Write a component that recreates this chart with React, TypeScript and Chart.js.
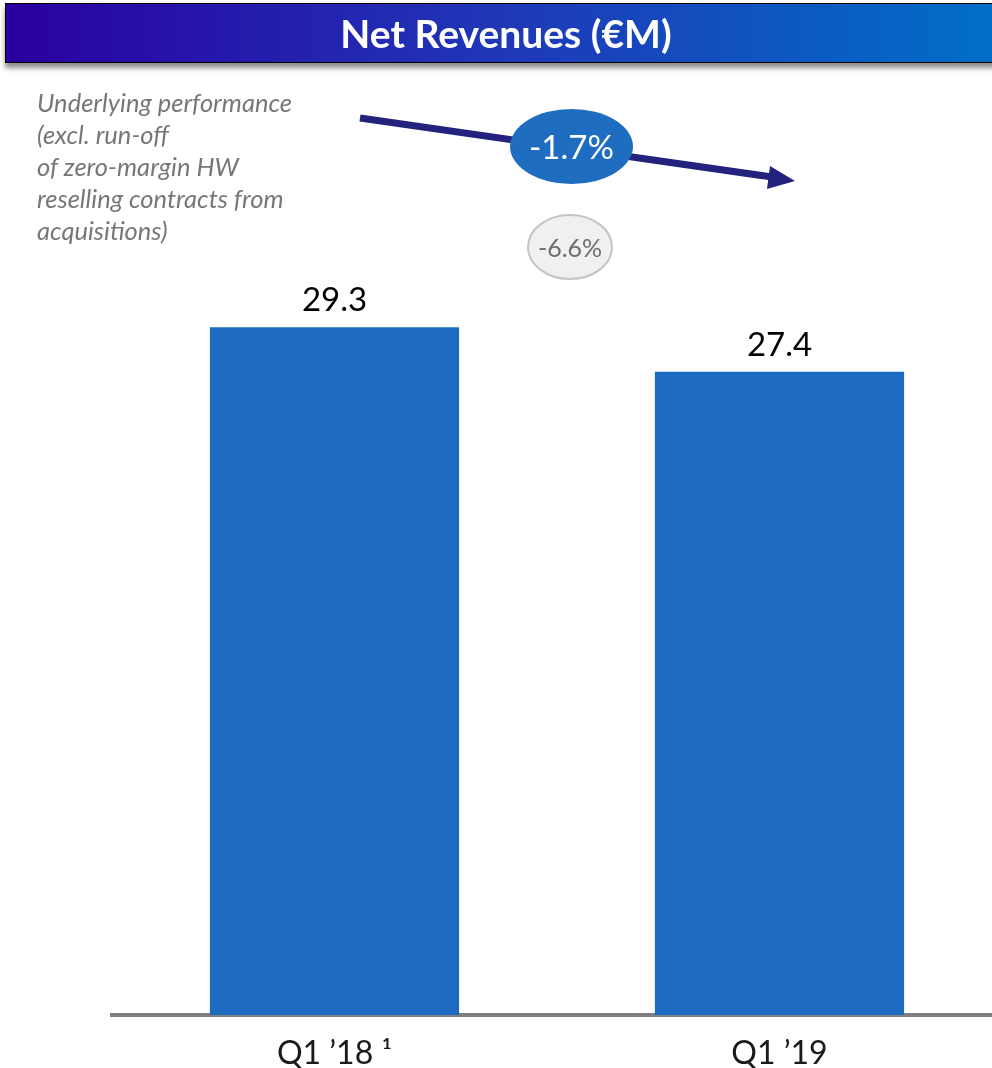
import React, { useEffect, useRef } from "react";
import { Chart, registerables } from "chart.js";

Chart.register(...registerables);

const categories = ["Q1 \u201918 \u00B9", "Q1 \u201919"];
const revenues = [29.3, 27.4];
const title = "Net Revenues (\u20ACM)";
const noteLines = [
  "Underlying performance",
  "(excl. run-off",
  "of zero-margin HW",
  "reselling contracts from",
  "acquisitions)",
];
const underlyingChange = "-1.7%";
const reportedChange = "-6.6%";

const BAR_COLOR = "#1c6bc0";

const valueLabels = {
  id: "valueLabels",
  afterDatasetsDraw(chart: any) {
    const ctx = chart.ctx;
    const meta = chart.getDatasetMeta(0);
    ctx.save();
    ctx.font = "33px Lato, 'Noto Sans', sans-serif";
    ctx.fillStyle = "#000";
    ctx.textAlign = "center";
    ctx.textBaseline = "bottom";
    meta.data.forEach((bar: any, i: number) => {
      ctx.fillText(revenues[i].toFixed(1), bar.x, bar.y - 10);
    });
    ctx.restore();
  },
};

export default function App() {
  const ref = useRef<HTMLCanvasElement>(null);
  useEffect(() => {
    if (!ref.current) return;
    const chart = new Chart(ref.current, {
      type: "bar",
      data: {
        labels: categories,
        datasets: [
          {
            data: revenues,
            backgroundColor: BAR_COLOR,
            borderWidth: 0,
            barPercentage: 0.56,
            categoryPercentage: 1,
          },
        ],
      },
      options: {
        responsive: false,
        animation: false,
        devicePixelRatio: 1,
        layout: { padding: { left: 112, right: 0, top: 76, bottom: 0 } },
        plugins: { legend: { display: false }, tooltip: { enabled: false } },
        scales: {
          y: { display: false, min: 0, max: 40 },
          x: {
            grid: { display: false, drawTicks: false },
            border: { display: true, color: "#808080", width: 4 },
            ticks: {
              color: "#1a1a1a",
              padding: 19,
              font: { family: "Lato, 'Noto Sans', sans-serif", size: 32 },
            },
            afterFit(scale: any) {
              scale.height = 53;
            },
          },
        },
      },
      plugins: [valueLabels],
    });
    return () => chart.destroy();
  }, []);

  return (
    <div
      style={{
        position: "absolute",
        left: 0,
        top: 0,
        width: 992,
        height: 1068,
        overflow: "hidden",
        background: "#fff",
        fontFamily: "Lato, 'Noto Sans', sans-serif",
      }}
    >
      <canvas
        ref={ref}
        width={1002}
        height={1068}
        style={{ position: "absolute", left: 0, top: 0, width: 1002, height: 1068 }}
      />
      <div
        style={{
          position: "absolute",
          left: 5,
          top: 3,
          width: 1000,
          height: 58,
          border: "1.5px solid #000",
          background: "linear-gradient(90deg, #2a00a0 0%, #1f38b8 50%, #0070c8 100%)",
          boxShadow: "0 5px 5px rgba(0,0,0,0.45)",
          color: "#fff",
          fontWeight: 700,
          fontSize: 39,
          lineHeight: "58px",
          textAlign: "center",
        }}
      >
        {title}
      </div>
      <div
        style={{
          position: "absolute",
          left: 37,
          top: 86,
          color: "#777",
          fontStyle: "italic",
          fontSize: 25.5,
          lineHeight: "32px",
        }}
      >
        {noteLines.map((l, i) => (
          <div key={i}>{l}</div>
        ))}
      </div>
      <svg
        width={992}
        height={300}
        style={{ position: "absolute", left: 0, top: 0 }}
      >
        <line x1={360} y1={118} x2={772} y2={177} stroke="#23237e" strokeWidth={7} />
        <polygon points="795,181 770,166 767,189" fill="#23237e" />
        <ellipse cx={571.5} cy={146.5} rx={61.5} ry={37.5} fill="#1f6dc0" />
        <ellipse cx={570} cy={247} rx={42} ry={32} fill="#f0f0f0" stroke="#c4c4c4" strokeWidth={2} />
      </svg>
      <div
        style={{
          position: "absolute",
          left: 510,
          top: 109,
          width: 123,
          height: 75,
          lineHeight: "75px",
          textAlign: "center",
          color: "#fff",
          fontSize: 33,
        }}
      >
        {underlyingChange}
      </div>
      <div
        style={{
          position: "absolute",
          left: 528,
          top: 215,
          width: 84,
          height: 64,
          lineHeight: "64px",
          textAlign: "center",
          color: "#6e6e6e",
          fontSize: 25,
        }}
      >
        {reportedChange}
      </div>
    </div>
  );
}
